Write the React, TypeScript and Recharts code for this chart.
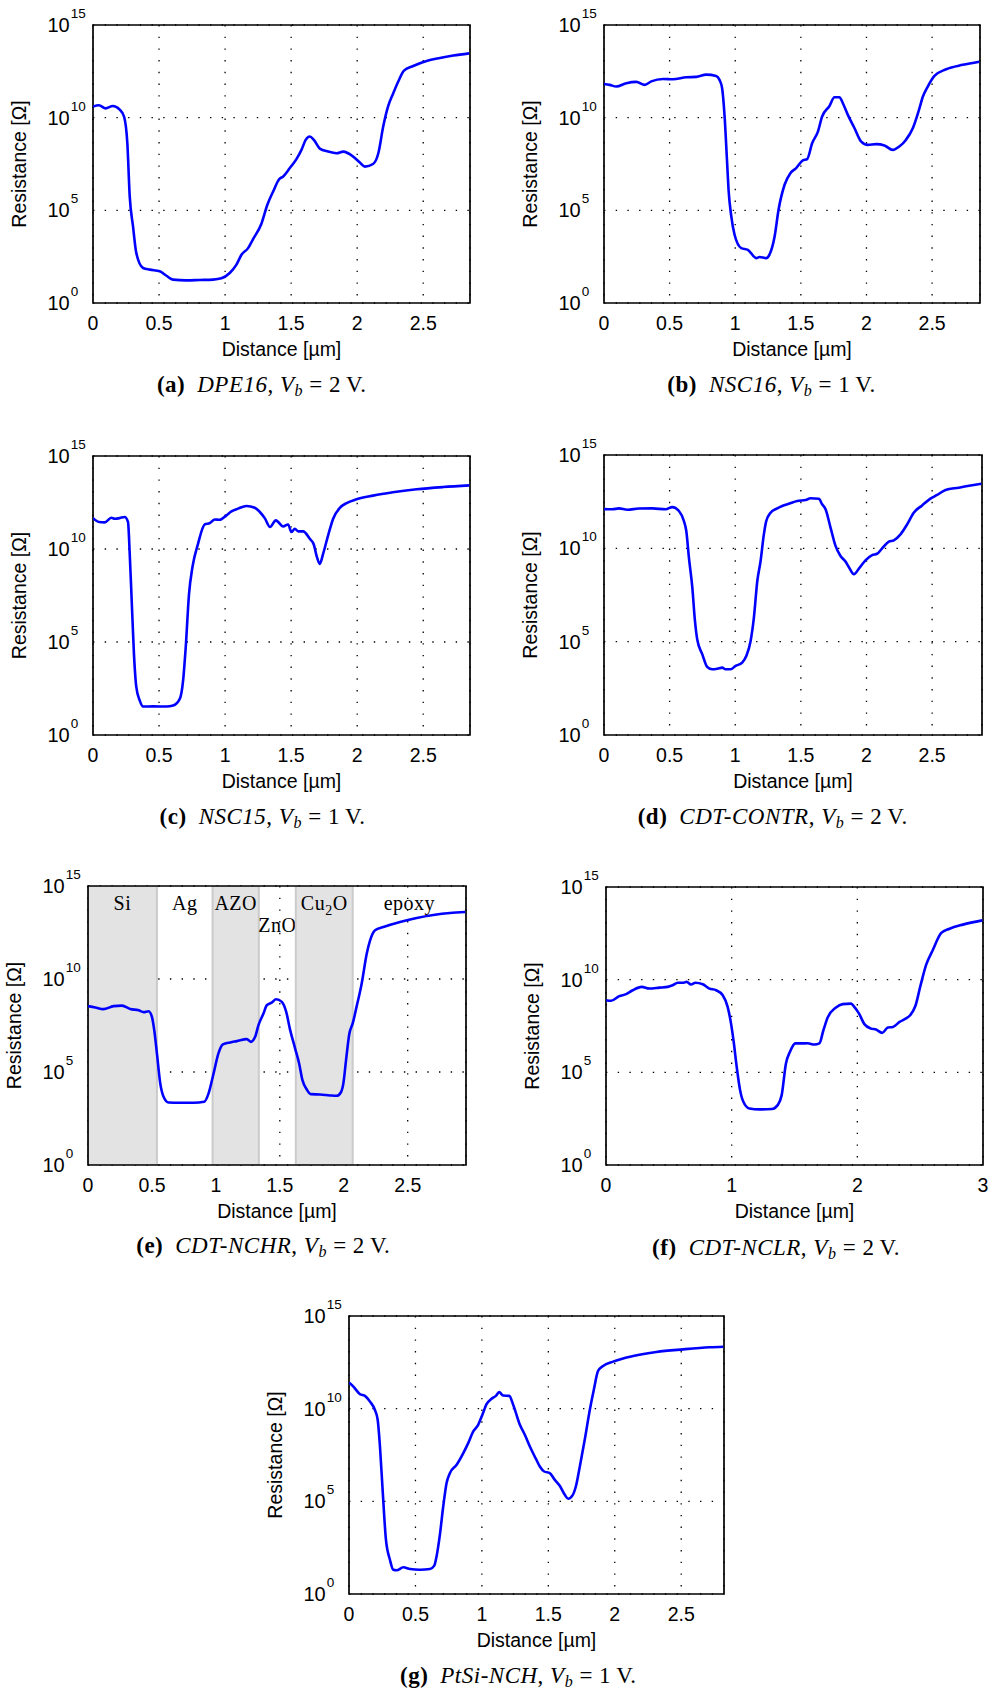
import React from 'react';
import { LineChart, Line, XAxis, YAxis, CartesianGrid, ReferenceArea } from 'recharts';

const SANS = '"Liberation Sans", Arial, Helvetica, sans-serif';
const SERIF = '"Liberation Serif", "Times New Roman", serif';

// Each series: [distance in µm, log10(resistance / Ω)]
const seriesA: [number, number][] = [
  [0, 10.6], [0.045, 10.67], [0.096, 10.5], [0.15, 10.63], [0.2, 10.45], [0.235, 10.06], [0.26, 8.62],
  [0.278, 5.75], [0.303, 4.13], [0.328, 2.69], [0.379, 1.89], [0.43, 1.8], [0.505, 1.71], [0.556, 1.47],
  [0.606, 1.26], [0.707, 1.22], [0.808, 1.24], [0.909, 1.26], [0.972, 1.33], [1.035, 1.62], [1.086, 2.07],
  [1.124, 2.6], [1.174, 2.96], [1.212, 3.45], [1.275, 4.28], [1.32, 5.3], [1.364, 6.02], [1.409, 6.68],
  [1.44, 6.83], [1.49, 7.28], [1.54, 7.76], [1.578, 8.26], [1.61, 8.8], [1.641, 8.98], [1.672, 8.8],
  [1.717, 8.33], [1.78, 8.17], [1.843, 8.08], [1.894, 8.17], [1.97, 7.9], [2.02, 7.58], [2.058, 7.36],
  [2.12, 7.5], [2.16, 8.08], [2.197, 9.52], [2.235, 10.63], [2.273, 11.32], [2.31, 11.94], [2.354, 12.54],
  [2.424, 12.79], [2.525, 13.06], [2.626, 13.22], [2.727, 13.35], [2.848, 13.47],
];

const seriesB: [number, number][] = [
  [0, 11.82], [0.043, 11.77], [0.094, 11.68], [0.17, 11.86], [0.246, 11.93], [0.31, 11.77], [0.36, 11.96],
  [0.45, 12.09], [0.525, 12.07], [0.627, 12.18], [0.703, 12.2], [0.779, 12.32], [0.855, 12.25], [0.88, 12.04],
  [0.9, 11.59], [0.919, 10.06], [0.937, 7.72], [0.949, 6.11], [0.97, 4.67], [0.995, 3.68], [1.046, 2.96],
  [1.096, 2.87], [1.16, 2.42], [1.185, 2.48], [1.236, 2.42], [1.26, 2.6], [1.3, 3.59], [1.33, 5.03],
  [1.376, 6.38], [1.42, 7.0], [1.464, 7.28], [1.515, 7.69], [1.548, 7.76], [1.586, 8.62], [1.63, 9.25],
  [1.662, 10.06], [1.718, 10.63], [1.756, 11.1], [1.794, 11.1], [1.82, 10.78], [1.858, 10.15], [1.909, 9.43],
  [1.96, 8.71], [2.01, 8.53], [2.074, 8.57], [2.137, 8.5], [2.2, 8.26], [2.25, 8.44], [2.3, 8.8],
  [2.353, 9.43], [2.4, 10.42], [2.43, 11.14], [2.467, 11.68], [2.518, 12.25], [2.607, 12.61], [2.734, 12.85],
  [2.86, 13.02],
];

const seriesC: [number, number][] = [
  [0, 11.66], [0.045, 11.45], [0.088, 11.43], [0.139, 11.68], [0.164, 11.63], [0.202, 11.66], [0.24, 11.72],
  [0.265, 11.45], [0.278, 9.74], [0.295, 6.87], [0.31, 4.36], [0.328, 2.57], [0.354, 1.85], [0.379, 1.53],
  [0.455, 1.54], [0.556, 1.53], [0.606, 1.58], [0.657, 1.94], [0.682, 2.92], [0.702, 4.72], [0.727, 7.59],
  [0.753, 9.03], [0.795, 10.28], [0.846, 11.32], [0.884, 11.39], [0.922, 11.59], [0.96, 11.57], [1.01, 11.81],
  [1.048, 12.02], [1.098, 12.17], [1.162, 12.31], [1.225, 12.22], [1.263, 11.99], [1.3, 11.66], [1.34, 11.18],
  [1.384, 11.54], [1.44, 11.21], [1.477, 11.32], [1.503, 10.91], [1.528, 11.09], [1.553, 10.95], [1.591, 10.95],
  [1.641, 10.55], [1.672, 10.23], [1.692, 9.65], [1.717, 9.2], [1.742, 9.74], [1.78, 10.73], [1.818, 11.63],
  [1.87, 12.22], [1.92, 12.47], [1.995, 12.67], [2.12, 12.87], [2.27, 13.05], [2.45, 13.21], [2.65, 13.33],
  [2.85, 13.42],
];

const seriesD: [number, number][] = [
  [0, 12.1], [0.063, 12.09], [0.114, 12.14], [0.178, 12.07], [0.266, 12.13], [0.368, 12.14], [0.47, 12.09],
  [0.52, 12.21], [0.571, 12.0], [0.609, 11.46], [0.627, 10.93], [0.647, 9.5], [0.673, 7.89], [0.693, 6.11],
  [0.71, 5.13], [0.749, 4.32], [0.787, 3.64], [0.825, 3.52], [0.863, 3.55], [0.901, 3.61], [0.926, 3.52],
  [0.964, 3.52], [1.003, 3.7], [1.053, 3.88], [1.084, 4.23], [1.117, 5.04], [1.142, 6.29], [1.168, 8.25],
  [1.193, 9.32], [1.218, 10.75], [1.236, 11.46], [1.269, 11.91], [1.32, 12.14], [1.358, 12.27], [1.409, 12.39],
  [1.472, 12.54], [1.536, 12.59], [1.574, 12.68], [1.637, 12.66], [1.662, 12.36], [1.688, 12.09], [1.726, 11.11],
  [1.764, 10.13], [1.802, 9.59], [1.84, 9.29], [1.865, 9.0], [1.904, 8.61], [1.942, 8.91], [1.992, 9.36],
  [2.043, 9.64], [2.081, 9.71], [2.119, 10.0], [2.17, 10.36], [2.208, 10.43], [2.259, 10.75], [2.31, 11.29],
  [2.36, 11.91], [2.424, 12.3], [2.487, 12.66], [2.538, 12.86], [2.602, 13.13], [2.703, 13.25], [2.805, 13.38],
  [2.876, 13.46],
];

const seriesE: [number, number][] = [
  [0, 8.54], [0.057, 8.47], [0.12, 8.38], [0.2, 8.54], [0.266, 8.57], [0.33, 8.39], [0.396, 8.32],
  [0.435, 8.22], [0.474, 8.27], [0.5, 7.96], [0.518, 7.25], [0.539, 6.0], [0.565, 4.39], [0.591, 3.67],
  [0.63, 3.36], [0.72, 3.35], [0.826, 3.35], [0.909, 3.4], [0.943, 3.85], [0.982, 4.92], [1.02, 6.0],
  [1.055, 6.48], [1.112, 6.59], [1.164, 6.66], [1.242, 6.77], [1.273, 6.62], [1.307, 6.89], [1.333, 7.52],
  [1.372, 8.14], [1.398, 8.59], [1.437, 8.73], [1.471, 8.91], [1.516, 8.77], [1.55, 8.23], [1.581, 7.25],
  [1.62, 6.26], [1.651, 5.46], [1.677, 4.56], [1.711, 4.06], [1.742, 3.81], [1.815, 3.79], [1.893, 3.74],
  [1.945, 3.72], [1.977, 3.9], [1.997, 4.39], [2.018, 5.64], [2.044, 7.07], [2.07, 7.61], [2.1, 8.5],
  [2.14, 9.75], [2.18, 11.37], [2.206, 12.08], [2.245, 12.62], [2.31, 12.8], [2.44, 13.07], [2.57, 13.28],
  [2.7, 13.44], [2.83, 13.55], [2.95, 13.6],
];

const seriesF: [number, number][] = [
  [0, 8.89], [0.04, 8.86], [0.106, 9.11], [0.16, 9.22], [0.212, 9.43], [0.284, 9.61], [0.345, 9.52],
  [0.425, 9.57], [0.491, 9.61], [0.531, 9.7], [0.571, 9.83], [0.611, 9.83], [0.642, 9.88], [0.677, 9.74],
  [0.711, 9.83], [0.77, 9.75], [0.823, 9.52], [0.876, 9.43], [0.929, 9.16], [0.968, 8.53], [0.995, 7.63],
  [1.016, 6.65], [1.04, 5.3], [1.067, 4.04], [1.093, 3.41], [1.141, 3.05], [1.22, 3.0], [1.321, 3.02],
  [1.366, 3.23], [1.398, 3.77], [1.432, 5.48], [1.464, 6.11], [1.507, 6.56], [1.552, 6.56], [1.605, 6.57],
  [1.658, 6.5], [1.698, 6.56], [1.73, 7.27], [1.764, 7.96], [1.83, 8.5], [1.883, 8.68], [1.95, 8.71],
  [1.976, 8.53], [2.016, 8.14], [2.056, 7.6], [2.109, 7.36], [2.149, 7.31], [2.197, 7.13], [2.243, 7.42],
  [2.283, 7.45], [2.336, 7.72], [2.384, 7.9], [2.42, 8.08], [2.464, 8.62], [2.5, 9.61], [2.548, 10.81],
  [2.6, 11.59], [2.668, 12.52], [2.734, 12.75], [2.84, 12.97], [2.995, 13.2],
];

const seriesG: [number, number][] = [
  [0, 11.41], [0.033, 11.19], [0.083, 10.78], [0.12, 10.69], [0.158, 10.38], [0.195, 9.93], [0.216, 9.39],
  [0.233, 7.96], [0.253, 5.62], [0.278, 2.93], [0.308, 1.85], [0.333, 1.31], [0.358, 1.28], [0.409, 1.44],
  [0.459, 1.35], [0.534, 1.31], [0.609, 1.35], [0.642, 1.53], [0.659, 2.03], [0.684, 3.2], [0.709, 4.72],
  [0.734, 5.98], [0.759, 6.52], [0.81, 6.97], [0.86, 7.6], [0.897, 8.14], [0.935, 8.77], [0.972, 9.13],
  [1.003, 9.66], [1.035, 10.24], [1.073, 10.53], [1.105, 10.69], [1.13, 10.89], [1.16, 10.71], [1.206, 10.69],
  [1.236, 10.2], [1.286, 9.13], [1.323, 8.59], [1.361, 7.96], [1.404, 7.33], [1.436, 6.88], [1.469, 6.61],
  [1.511, 6.52], [1.549, 6.16], [1.586, 5.84], [1.624, 5.35], [1.649, 5.14], [1.682, 5.32], [1.707, 5.8],
  [1.737, 6.88], [1.774, 8.32], [1.812, 9.93], [1.842, 11.01], [1.875, 12.05], [1.912, 12.3], [1.987, 12.54],
  [2.138, 12.84], [2.313, 13.06], [2.514, 13.2], [2.714, 13.31], [2.817, 13.34],
];

// Axis extents and ticks
const xMaxes = [2.854, 2.865, 2.854, 2.88, 2.956, 3.0, 2.822];
const halfTicks = [0, 0.5, 1, 1.5, 2, 2.5];
const unitTicks = [0, 1, 2, 3];
const yTicks = [1, 1e5, 1e10, 1e15];

// Captions
const captionLetters = ['a', 'b', 'c', 'd', 'e', 'f', 'g'];
const sampleNames = ['DPE16', 'NSC16', 'NSC15', 'CDT-CONTR', 'CDT-NCHR', 'CDT-NCLR', 'PtSi-NCH'];
const biasVoltages = [2, 1, 1, 2, 2, 2, 1];

// Layer stack of panel (e)
const layerNames = ['Si', 'Ag', 'AZO', 'ZnO', 'Cu_2O', 'epoxy'];
const layerEdges = [0, 0.539, 0.974, 1.336, 1.625, 2.07, 2.956];
const layerShaded = [true, false, true, false, true, false];

// Layout (page pixels): plot boxes and caption anchors
const boxes = [
  { left: 93.3, top: 25, w: 377, h: 278 },
  { left: 603.7, top: 25, w: 376, h: 278 },
  { left: 93.3, top: 455.7, w: 377, h: 279 },
  { left: 604.3, top: 454.5, w: 378, h: 280 },
  { left: 87.7, top: 885.7, w: 378, h: 279 },
  { left: 606, top: 886.7, w: 377, h: 278 },
  { left: 349, top: 1316, w: 375, h: 278 },
];
const captionPos = [
  [261.7, 391.7], [771.5, 391.7], [262.5, 824], [772.7, 823.5], [263.3, 1253], [776, 1255], [518.3, 1683],
];

const PADL = 100;
const PADT = 30;
const PADR = 10;
const PADB = 70;
const LOWERED_LABELS = new Set(['ZnO']);

const allSeries = [seriesA, seriesB, seriesC, seriesD, seriesE, seriesF, seriesG];

function renderLayerName(name: string) {
  const parts = name.split('_');
  if (parts.length === 1) return name;
  return (
    <>
      {parts[0]}
      <tspan dy={5} fontSize={14}>{parts[1][0]}</tspan>
      <tspan dy={-5}>{parts[1].slice(1)}</tspan>
    </>
  );
}

function Panel({ idx }: { idx: number }) {
  const box = boxes[idx];
  const W = box.w;
  const H = box.h;
  const xMax = xMaxes[idx];
  const xTicks = xMax >= 3 ? unitTicks : halfTicks;
  const data = allSeries[idx].map(([x, lr]) => ({ x, r: Math.pow(10, lr) }));
  const plotBottom = PADT + H;

  const XTick = (props: any) => (
    <text x={props.x} y={plotBottom + 26.8} textAnchor="middle" fontFamily={SANS} fontSize={19.5} fill="#000">
      {String(props.payload.value)}
    </text>
  );
  const YTick = (props: any) => {
    const e = Math.round(Math.log10(props.payload.value));
    return (
      <text x={PADL - 45.6} y={props.y + 6.9} textAnchor="start" fontFamily={SANS} fontSize={20} fill="#000">
        10
        <tspan dx={1.2} dy={-14} fontSize={13.5}>{e}</tspan>
      </text>
    );
  };
  const xTitle = (lp: any) => {
    const vb = lp.viewBox || { x: PADL, width: W };
    return (
      <text x={vb.x + vb.width / 2} y={plotBottom + 52.7} textAnchor="middle" fontFamily={SANS} fontSize={19.5} fill="#000">
        Distance [µm]
      </text>
    );
  };
  const yTitle = () => {
    const cx = PADL - 67;
    const cy = PADT + H / 2;
    return (
      <text x={cx} y={cy} transform={`rotate(-90 ${cx} ${cy})`} textAnchor="middle" fontFamily={SANS} fontSize={19.5} fill="#000">
        Resistance [Ω]
      </text>
    );
  };

  const layers =
    idx === 4
      ? layerNames.map((name, i) => (
          <ReferenceArea
            key={name}
            x1={layerEdges[i]}
            x2={layerEdges[i + 1]}
            y1={1}
            y2={1e15}
            fill={layerShaded[i] ? '#e3e3e3' : 'none'}
            fillOpacity={1}
            stroke={layerShaded[i] ? '#cbcbcb' : 'none'}
            strokeWidth={2}
            ifOverflow="hidden"
            label={(lp: any) => {
              const vb = lp.viewBox;
              if (!vb) return null;
              const y = vb.y + (LOWERED_LABELS.has(name) ? 46 : 23.6);
              return (
                <text x={vb.x + vb.width / 2} y={y} textAnchor="middle" fontFamily={SERIF} fontSize={20} letterSpacing={0.5} fill="#000">
                  {renderLayerName(name)}
                </text>
              );
            }}
          />
        ))
      : null;

  return (
    <div style={{ position: 'absolute', left: box.left - PADL, top: box.top - PADT }}>
      <LineChart
        width={PADL + W + PADR}
        height={PADT + H + PADB}
        data={data}
        margin={{ top: PADT, right: PADR, bottom: 0, left: 0 }}
      >
        {layers}
        <CartesianGrid stroke="#000" strokeWidth={1.3} strokeDasharray="1.4 10.3" fill="none" />
        <XAxis
          dataKey="x"
          type="number"
          domain={[0, xMax]}
          ticks={xTicks}
          interval={0}
          allowDataOverflow
          height={PADB}
          axisLine={false}
          tickLine={false}
          tick={XTick}
          label={xTitle}
        />
        <YAxis
          type="number"
          scale="log"
          domain={[1, 1e15]}
          ticks={yTicks}
          interval={0}
          allowDataOverflow
          width={PADL}
          axisLine={false}
          tickLine={false}
          tick={YTick}
          label={yTitle}
        />
        <Line
          dataKey="r"
          type="monotone"
          stroke="#0000ff"
          strokeWidth={2.6}
          dot={false}
          isAnimationActive={false}
        />
        <ReferenceArea
          x1={0}
          x2={xMax}
          y1={1}
          y2={1e15}
          fill="none"
          stroke="#000"
          strokeWidth={1.7}
          ifOverflow="visible"
        />
      </LineChart>
    </div>
  );
}

function Caption({ idx }: { idx: number }) {
  const [cx, by] = captionPos[idx];
  return (
    <text x={cx} y={by} textAnchor="middle" fontFamily={SERIF} fontSize={23} letterSpacing={0.5} fill="#000">
      <tspan fontWeight="bold">({captionLetters[idx]})</tspan>
      <tspan dx={12} fontStyle="italic">{sampleNames[idx]}</tspan>
      <tspan>, </tspan>
      <tspan fontStyle="italic">V</tspan>
      <tspan fontStyle="italic" fontSize={16} dy={4}>b</tspan>
      <tspan dy={-4}>{` = ${biasVoltages[idx]}\u2009V.`}</tspan>
    </text>
  );
}

export default function App() {
  return (
    <div style={{ position: 'absolute', left: 0, top: 0, width: 992, height: 1695, background: '#fff' }}>
      {boxes.map((_, i) => (
        <Panel key={i} idx={i} />
      ))}
      <svg width={992} height={1695} style={{ position: 'absolute', left: 0, top: 0, pointerEvents: 'none' }}>
        {boxes.map((_, i) => (
          <Caption key={i} idx={i} />
        ))}
      </svg>
    </div>
  );
}
